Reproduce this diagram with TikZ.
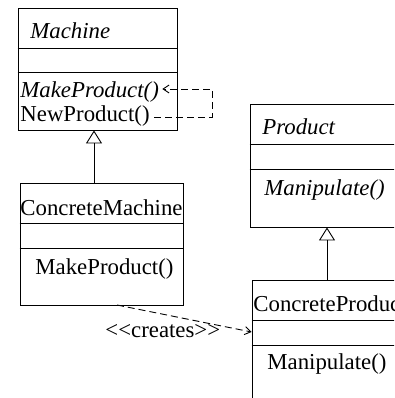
\documentclass[tikz,border=0pt]{standalone}
\usepackage{fontspec}
\setmainfont{Liberation Serif}
\usetikzlibrary{arrows.meta}
\begin{document}
\begin{tikzpicture}[x=1pt,y=-1pt,line width=0.9pt,
  classbox/.style={draw,rectangle,inner sep=0pt},
  lbl/.style={anchor=base west,inner sep=0pt,font=\fontsize{22.8}{25}\selectfont},
  ilbl/.style={lbl,font=\fontsize{22.8}{25}\selectfont\itshape},
  inherit/.style={-{Triangle[open,length=13pt,width=16pt]}},
  dep/.style={dashed,dash pattern=on 7pt off 4pt,-{Straight Barb[length=6pt,width=8pt]}}]
\useasboundingbox (0,0) rectangle (394,398);
\clip (0,0) rectangle (394,398);
% boxes
\node[classbox,minimum width=159pt,minimum height=122pt] (machine) at (97.5,69) {};
\node[classbox,minimum width=163pt,minimum height=122pt] (cmachine) at (101.5,244) {};
\node[classbox,minimum width=170pt,minimum height=123pt] (product) at (335,165.5) {};
\node[classbox,minimum width=170pt,minimum height=140pt] (cproduct) at (337,350) {};
% dividers
\draw (machine.west |- 0,48) -- (machine.east |- 0,48);
\draw (machine.west |- 0,72) -- (machine.east |- 0,72);
\draw (cmachine.west |- 0,223) -- (cmachine.east |- 0,223);
\draw (cmachine.west |- 0,248) -- (cmachine.east |- 0,248);
\draw (product.west |- 0,144) -- (product.east |- 0,144);
\draw (product.west |- 0,169) -- (product.east |- 0,169);
\draw (cproduct.west |- 0,320) -- (cproduct.east |- 0,320);
\draw (cproduct.west |- 0,345) -- (cproduct.east |- 0,345);
% texts
\node[ilbl] (tmachine) at (30,39) {Machine};
\node[ilbl] (tmake) at (20,98) {MakeProduct()};
\node[lbl] (tnew) at (20,122) {NewProduct()};
\node[lbl] (tcm) at (20,215) {ConcreteMachine};
\node[lbl] (tcmake) at (35,274) {MakeProduct()};
\node[ilbl] (tproduct) at (262,135) {Product};
\node[ilbl] (tmanip) at (264,195) {Manipulate()};
\node[lbl] (tcp) at (253,311) {ConcreteProduct};
\node[lbl] (tcmanip) at (267,369) {Manipulate()};
\node[lbl] (tcreates) at (105,337) {<{}<creates>{}>};
% self call
\coordinate (s1) at (212,117);
\coordinate (s2) at (212,89);
\draw[dep] (tnew.east |- 0,117) ++(4,0) -- (s1) -- (s2) -- ([xshift=3pt]tmake.east |- 0,89);
% inheritance
\draw[inherit] (cmachine.north -| 94,0) -- (machine.south -| 94,0);
\draw[inherit] (cproduct.north -| 327,0) -- (product.south -| 327,0);
% creates
\draw[dep] (117,305) -- (cproduct.west |- 0,332);
\end{tikzpicture}
\end{document}
